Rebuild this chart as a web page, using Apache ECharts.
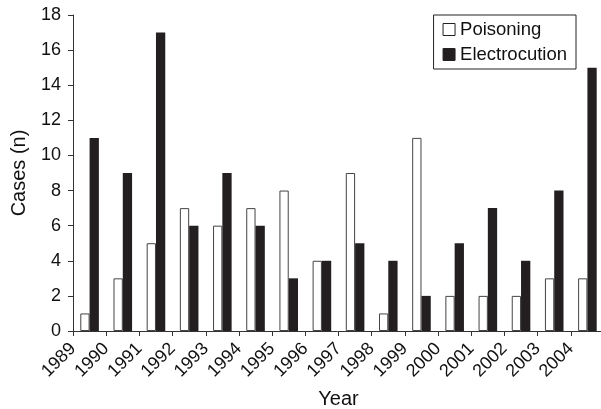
<!DOCTYPE html>
<html><head><meta charset="utf-8">
<script src="https://cdn.jsdelivr.net/npm/echarts@6/dist/echarts.min.js"></script>
<style>html,body{margin:0;padding:0;background:#fff}#c{width:601px;height:409px}</style>
</head><body><div id="c"></div>
<script>
var years = ['1989','1990','1991','1992','1993','1994','1995','1996','1997','1998','1999','2000','2001','2002','2003','2004'];
var poisoning = [1,3,5,7,6,7,8,4,9,1,11,2,2,2,3,3];
var electrocution = [11,9,17,6,9,6,3,4,5,4,2,5,7,4,8,15];
var tickLabels = years.concat(['']);
var font = 'Liberation Sans, Arial, sans-serif';
var chart = echarts.init(document.getElementById('c'));
chart.setOption({
  animation: false,
  backgroundColor: '#fff',
  grid: {left: 73, right: -3, top: 15, bottom: 78, containLabel: false, outerBoundsMode: 'none'},
  legend: {
    orient: 'vertical', right: 25, top: 15,
    data: ['Poisoning','Electrocution'],
    borderColor: '#222', borderWidth: 1, padding: [4, 9, 4, 9],
    itemWidth: 12, itemHeight: 12, itemGap: 4, itemStyle: {borderColor: '#222', borderWidth: 1},
    textStyle: {fontFamily: font, fontSize: 18.5, lineHeight: 21, color: '#111'},
    icon: 'rect'
  },
  xAxis: [{
    type: 'category', data: years, boundaryGap: true,
    axisLine: {lineStyle: {color: '#333', width: 1}},
    axisTick: {show: false},
    axisLabel: {show: false},
    name: 'Year', nameLocation: 'middle', nameGap: 58,
    nameTextStyle: {fontFamily: font, fontSize: 20, color: '#111'}
  }, {
    type: 'category', data: tickLabels, boundaryGap: false, position: 'bottom',
    axisLine: {show: false},
    axisTick: {show: true, length: 5, inside: false, lineStyle: {color: '#333'}},
    axisLabel: {show: true, rotate: 45, interval: 0, margin: 15, padding: [9, 0, 0, 0], fontFamily: font, fontSize: 18, color: '#111'}
  }],
  yAxis: {
    type: 'value', min: 0, max: 18, interval: 2,
    splitLine: {show: false},
    axisLine: {show: true, lineStyle: {color: '#333', width: 1}},
    axisTick: {show: true, length: 5, lineStyle: {color: '#333'}},
    axisLabel: {fontFamily: font, fontSize: 18, color: '#111', margin: 12},
    name: 'Cases (n)', nameLocation: 'middle', nameGap: 44, nameRotate: 90,
    nameTextStyle: {fontFamily: font, fontSize: 20, color: '#111'}
  },
  series: [{
    name: 'Poisoning', type: 'bar', data: poisoning, xAxisIndex: 0,
    barGap: '0%', barCategoryGap: '44%',
    itemStyle: {color: '#fff', borderColor: '#444', borderWidth: 1}
  }, {
    name: 'Electrocution', type: 'bar', data: electrocution, xAxisIndex: 0,
    itemStyle: {color: '#231f20'}
  }]
});
</script></body></html>
